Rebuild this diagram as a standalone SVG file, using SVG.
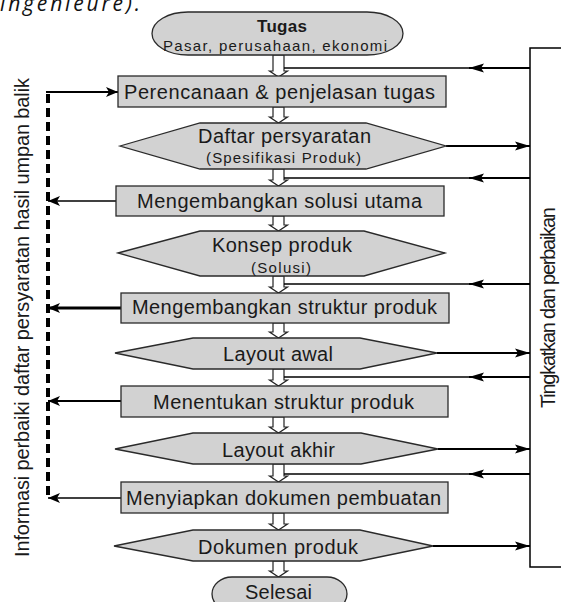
<svg xmlns="http://www.w3.org/2000/svg" width="561" height="602" viewBox="0 0 561 602">
<defs>
<style>
.box{fill:#d2d2d2;stroke:#2a2a2a;stroke-width:1.3}
.t{font-family:"Liberation Sans",Arial,sans-serif;fill:#1a1a1a;font-size:20px}
.s{font-size:15px}
.b{font-weight:bold;font-size:17px}
.ha{fill:#fff;stroke:#222;stroke-width:1.2}
.ln{stroke:#000;fill:none}
</style>
<marker id="ah" markerUnits="userSpaceOnUse" markerWidth="16" markerHeight="10" refX="15" refY="5" orient="auto"><path d="M0,0.5 L15,5 L0,9.5 L3,5 Z" fill="#000"/></marker>
<marker id="ahs" markerUnits="userSpaceOnUse" markerWidth="13" markerHeight="11" refX="12" refY="5.5" orient="auto"><path d="M0,0.5 L12,5.5 L0,10.5 L3,5.5 Z" fill="#000"/></marker>
</defs>
<rect width="561" height="602" fill="#fff"/>
<text x="0" y="11" font-family="'Open Sans','Noto Sans',sans-serif" font-style="italic" font-size="21" fill="#111" textLength="140">ingenieure).</text>

<g id="connectors">
  <!-- hollow arrows -->
  <path class="ha" d="M273,55 V71 H269.5 L278.5,77 L287.5,71 H284 V55 Z"/>
  <path class="ha" d="M273,107 V117 H269.5 L278.5,123 L287.5,117 H284 V107 Z"/>
  <path class="ha" d="M273,169 V180 H269.5 L278.5,186 L287.5,180 H284 V169 Z"/>
  <path class="ha" d="M273,216 V225 H269.5 L278.5,231 L287.5,225 H284 V216 Z"/>
  <path class="ha" d="M273,276 V287 H269.5 L278.5,293 L287.5,287 H284 V276 Z"/>
  <path class="ha" d="M273,323 V332 H269.5 L278.5,338 L287.5,332 H284 V323 Z"/>
  <path class="ha" d="M273,369 V380 H269.5 L278.5,386 L287.5,380 H284 V369 Z"/>
  <path class="ha" d="M273,417 V427 H269.5 L278.5,433 L287.5,427 H284 V417 Z"/>
  <path class="ha" d="M273,464 V476 H269.5 L278.5,482 L287.5,476 H284 V464 Z"/>
  <path class="ha" d="M273,513 V524 H269.5 L278.5,530 L287.5,524 H284 V513 Z"/>
  <path class="ha" d="M273,561 V571 H269.5 L278.5,577 L287.5,571 H284 V561 Z"/>

  <!-- right box -->
  <path class="ln" stroke-width="1.5" d="M562,48 H530 V567 H562"/>

  <!-- feedback from right box -->
  <g class="ln">
    <line x1="530" y1="68" x2="469" y2="68" stroke-width="2.2" marker-end="url(#ah)"/>
    <line x1="472" y1="68" x2="284" y2="68" stroke-width="1.3"/>
    <line x1="530" y1="178" x2="469" y2="178" stroke-width="2.2" marker-end="url(#ah)"/>
    <line x1="472" y1="178" x2="284" y2="178" stroke-width="1.3"/>
    <line x1="530" y1="284" x2="469" y2="284" stroke-width="2.2" marker-end="url(#ah)"/>
    <line x1="472" y1="284" x2="284" y2="284" stroke-width="1.3"/>
    <line x1="530" y1="377" x2="469" y2="377" stroke-width="2.2" marker-end="url(#ah)"/>
    <line x1="472" y1="377" x2="284" y2="377" stroke-width="1.3"/>
    <line x1="530" y1="474" x2="469" y2="474" stroke-width="2.2" marker-end="url(#ah)"/>
    <line x1="472" y1="474" x2="284" y2="474" stroke-width="1.3"/>
    <!-- outputs to right box -->
    <line x1="446" y1="146" x2="530" y2="146" stroke-width="2.2" marker-end="url(#ah)"/>
    <line x1="437" y1="353" x2="530" y2="353" stroke-width="2.2" marker-end="url(#ah)"/>
    <line x1="438" y1="449" x2="530" y2="449" stroke-width="2.2" marker-end="url(#ah)"/>
    <line x1="433" y1="546" x2="530" y2="546" stroke-width="2.2" marker-end="url(#ah)"/>
  </g>

  <!-- left feedback -->
  <g class="ln">
    <line x1="48" y1="94" x2="48" y2="500" stroke-width="4" stroke-dasharray="9 5"/>
    <line x1="46" y1="92" x2="118" y2="92" stroke-width="2" marker-end="url(#ahs)"/>
    <line x1="116" y1="201" x2="48" y2="201" stroke-width="1.5" marker-end="url(#ahs)"/>
    <line x1="121" y1="308" x2="48" y2="308" stroke-width="3" marker-end="url(#ahs)"/>
    <line x1="121" y1="401" x2="48" y2="401" stroke-width="2" marker-end="url(#ahs)"/>
    <line x1="121" y1="498" x2="48" y2="498" stroke-width="1.5" marker-end="url(#ahs)"/>
  </g>
</g>

<g id="tugas">
  <rect class="box" x="152" y="12" width="251" height="43" rx="36" ry="21.5"/>
  <text class="t b" x="257" y="32" textLength="50">Tugas</text>
  <text class="t s" x="163" y="51" textLength="224">Pasar, perusahaan, ekonomi</text>
</g>
<g id="perencanaan">
  <rect class="box" x="118" y="76" width="328" height="31"/>
  <text class="t" x="124" y="99" textLength="311">Perencanaan &amp; penjelasan tugas</text>
</g>
<g id="daftar">
  <polygon class="box" points="120,146 200,123 366,123 446,146 366,169 200,169"/>
  <text class="t" x="198" y="143" textLength="173">Daftar persyaratan</text>
  <text class="t s" x="206" y="163" textLength="155">(Spesifikasi Produk)</text>
</g>
<g id="solusi">
  <rect class="box" x="116" y="186" width="328" height="30"/>
  <text class="t" x="137" y="208" textLength="285">Mengembangkan solusi utama</text>
</g>
<g id="konsep">
  <polygon class="box" points="118,253 200,231 364,231 445,253 364,276 200,276"/>
  <text class="t" x="212" y="252" textLength="140">Konsep produk</text>
  <text class="t s" x="251" y="273" textLength="60">(Solusi)</text>
</g>
<g id="struktur">
  <rect class="box" x="121" y="293" width="328" height="30"/>
  <text class="t" x="132" y="314" textLength="305">Mengembangkan struktur produk</text>
</g>
<g id="layout-awal">
  <polygon class="box" points="115,353 193,338 360,338 437,353 360,369 193,369"/>
  <text class="t" x="223" y="361" textLength="110">Layout awal</text>
</g>
<g id="menentukan">
  <rect class="box" x="121" y="386" width="327" height="31"/>
  <text class="t" x="153" y="409" textLength="261">Menentukan struktur produk</text>
</g>
<g id="layout-akhir">
  <polygon class="box" points="115,449 193,433 361,433 438,449 361,464 193,464"/>
  <text class="t" x="222" y="457" textLength="113">Layout akhir</text>
</g>
<g id="menyiapkan">
  <rect class="box" x="121" y="482" width="327" height="31"/>
  <text class="t" x="126" y="505" textLength="315">Menyiapkan dokumen pembuatan</text>
</g>
<g id="dokumen">
  <polygon class="box" points="114,546 193,530 360,530 433,546 360,561 193,561"/>
  <text class="t" x="198" y="554" textLength="160">Dokumen produk</text>
</g>
<g id="selesai">
  <rect class="box" x="212" y="577" width="135" height="34" rx="20" ry="17"/>
  <text class="t" x="245" y="599" textLength="67">Selesai</text>
</g>

<g id="label-left">
  <text class="t" transform="translate(29,557) rotate(-90)" x="0" y="0" font-size="19" textLength="479">Informasi perbaiki daftar persyaratan hasil umpan balik</text>
</g>
<g id="label-right">
  <text class="t" transform="translate(555,408) rotate(-90)" x="0" y="0" font-size="17" textLength="201">Tingkatkan dan perbaikan</text>
</g>
</svg>
